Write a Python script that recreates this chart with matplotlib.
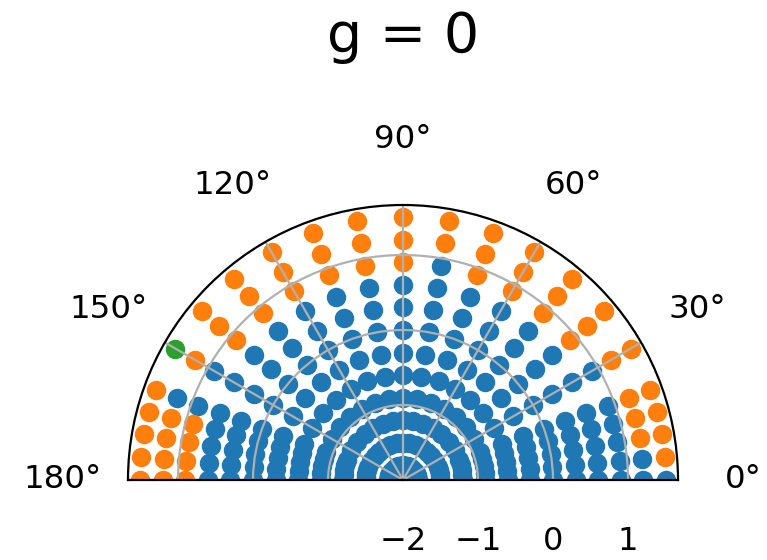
import numpy as np
import matplotlib
matplotlib.use("Agg")
import matplotlib.pyplot as plt

# sample directions (degrees) and moduli of the starting points
theta_deg = [0, 5, 10, 15, 20, 30, 40, 50, 60, 70, 80, 90, 100, 110,
             120, 130, 140, 150, 160, 165, 170, 175, 180]
modulus = [1/64, 1/32, 1/16, 1/8, 1/4, 1/2, 1, 2, 4, 8, 16, 32]

# outcome per point: 0 = bounded, 1 = escapes, 2 = other
# rings with modulus <= 4 are all bounded
outcome_8 = [0, 0, 0, 0, 0, 0, 1, 1, 1, 1, 0, 1, 1, 1, 1, 1, 1, 0, 0, 1, 1, 1, 1]
outcome_16 = [0, 0, 1, 1, 1, 1, 1, 1, 1, 1, 1, 1, 1, 1, 1, 1, 1, 1, 0, 1, 1, 1, 1]
outcome_32 = [0, 1, 1, 1, 1, 1, 1, 1, 1, 1, 1, 1, 1, 1, 1, 1, 1, 2, 1, 1, 1, 1, 1]

g = 0

th = np.deg2rad(theta_deg)
T, M = np.meshgrid(th, modulus)
res = np.zeros(T.shape, dtype=int)
res[-3] = outcome_8
res[-2] = outcome_16
res[-1] = outcome_32
R = np.log10(M)

fig = plt.figure(figsize=(7.67/2, 5.6/2), dpi=200)
# square box, the half disc sits in its middle
ax = fig.add_axes([128/767, -57.5/560, 550/767, 550/560], projection='polar')

for k in range(3):
    mask = res == k
    ax.scatter(T[mask], R[mask], color='C%d' % k)

ax.set_thetamin(0)
ax.set_thetamax(180)
ax.set_rlim(-2, 1.667)
ax.set_rticks([-2, -1, 0, 1])
ax.set_thetagrids(range(0, 181, 30))
ax.tick_params(axis='x', labelsize=11.7, pad=13)
ax.tick_params(axis='y', labelsize=11.5, pad=13)
ax.set_title('g = %d' % g, fontsize=20, y=1.028, pad=0)

plt.savefig('out.png', dpi=200)
